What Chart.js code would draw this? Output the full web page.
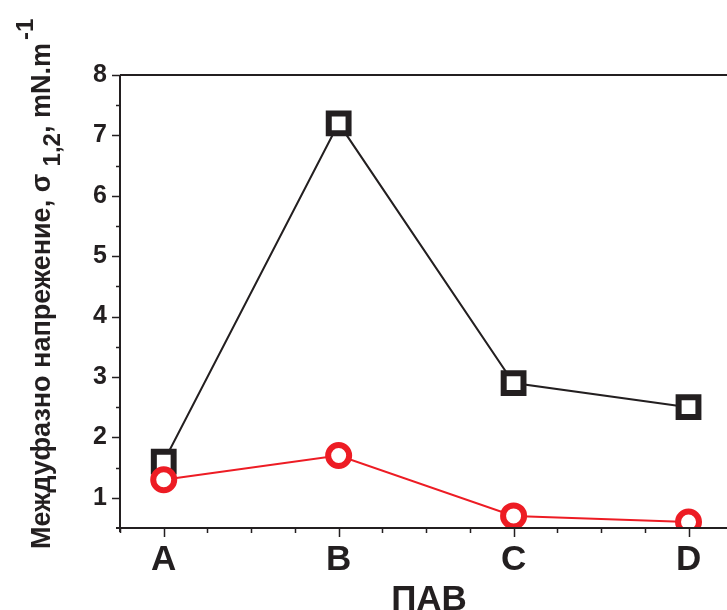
<!DOCTYPE html>
<html>
<head>
<meta charset="utf-8">
<script src="https://cdn.jsdelivr.net/npm/chart.js@4"></script>
<style>
  html, body { margin: 0; padding: 0; background: #fff; }
  #wrap { width: 727px; height: 610px; position: relative; }
</style>
</head>
<body>
<div id="wrap"><canvas id="c" width="727" height="610"></canvas></div>
<script>
// Surfactant categories on the x axis
const categories = ['A', 'B', 'C', 'D'];
// Interfacial tension, mN/m
const seriesSquares = [1.6, 7.2, 2.9, 2.5];
const seriesCircles = [1.3, 1.7, 0.7, 0.6];
// Labelled y ticks
const yTickValues = [1, 2, 3, 4, 5, 6, 7, 8];

const INK = '#231f20';
const RED = '#ed1c24';
const FONT = '"Liberation Sans", Arial, sans-serif';

const toPoints = arr => arr.map((v, i) => ({ x: i + 1, y: v }));

// Axis frame, tick marks and axis titles
const framePlugin = {
  id: 'frame',
  afterDraw(chart) {
    const { ctx, chartArea: a, scales: { x, y } } = chart;
    ctx.save();
    ctx.strokeStyle = INK;
    ctx.lineWidth = 2;
    ctx.lineCap = 'butt';
    ctx.beginPath();
    // left axis
    ctx.moveTo(a.left, a.top);
    ctx.lineTo(a.left, a.bottom + 4);
    // bottom axis
    ctx.moveTo(a.left - 4, a.bottom);
    ctx.lineTo(a.right, a.bottom);
    // top border
    ctx.moveTo(a.left, a.top);
    ctx.lineTo(a.right, a.top);
    ctx.stroke();

    // y tick marks: majors at integers, minors at halves
    ctx.lineWidth = 1.5;
    ctx.beginPath();
    for (let v = 1; v <= 8; v += 0.5) {
      const py = Math.round(y.getPixelForValue(v)) + 0.5;
      const len = Number.isInteger(v) ? 8 : 4;
      ctx.moveTo(a.left, py);
      ctx.lineTo(a.left - len, py);
    }
    // x tick marks: majors at categories, minors at quarters
    for (let v = 0.75; v <= x.max + 1e-9; v += 0.25) {
      const px = Math.round(x.getPixelForValue(v)) + 0.5;
      const len = Number.isInteger(v) ? 9 : 5;
      ctx.moveTo(px, a.bottom);
      ctx.lineTo(px, a.bottom + len);
    }
    ctx.stroke();

    // x axis title
    ctx.fillStyle = INK;
    ctx.font = 'bold 35px ' + FONT;
    ctx.textAlign = 'center';
    ctx.textBaseline = 'alphabetic';
    ctx.fillText('ПАВ', 429, 610);

    // y axis title with subscript and superscript, rotated
    ctx.translate(50, 549);
    ctx.rotate(-Math.PI / 2);
    ctx.textAlign = 'left';
    let cx = 0;
    const main = 'bold 27px ' + FONT;
    const small = 'bold 24px ' + FONT;
    ctx.font = main;
    const t1 = 'Междуфазно напрежение, σ ';
    ctx.fillText(t1, cx, 0);
    cx += ctx.measureText(t1).width;
    ctx.font = small;
    const t2 = '1,2';
    ctx.fillText(t2, cx, 10);
    cx += ctx.measureText(t2).width;
    ctx.font = main;
    const t3 = ', mN.m';
    ctx.fillText(t3, cx, 0);
    cx += ctx.measureText(t3).width;
    ctx.font = small;
    ctx.fillText('-1', cx + 3, -17);
    ctx.restore();
  }
};

new Chart(document.getElementById('c'), {
  type: 'line',
  data: {
    datasets: [
      {
        data: toPoints(seriesSquares),
        borderColor: INK,
        borderWidth: 2,
        pointStyle: 'rect',
        pointRadius: 14,
        pointBorderWidth: 6,
        pointBorderColor: INK,
        pointBackgroundColor: '#fff',
        clip: 0,
        order: 2
      },
      {
        data: toPoints(seriesCircles),
        borderColor: RED,
        borderWidth: 2,
        pointStyle: 'circle',
        pointRadius: 10.5,
        pointBorderWidth: 6,
        pointBorderColor: RED,
        pointBackgroundColor: '#fff',
        clip: 0,
        order: 1
      }
    ]
  },
  options: {
    responsive: false,
    animation: false,
    devicePixelRatio: 1,
    layout: { autoPadding: false, padding: { top: 75, right: 0, left: 0, bottom: 0 } },
    plugins: { legend: { display: false }, tooltip: { enabled: false } },
    elements: { line: { tension: 0 } },
    scales: {
      x: {
        type: 'linear',
        min: 0.75,
        max: 4.22,
        afterBuildTicks: s => { s.ticks = categories.map((_, i) => ({ value: i + 1 })); },
        afterFit: s => { s.height = 82; s.paddingLeft = 0; s.paddingRight = 0; },
        grid: { display: false, drawTicks: false },
        border: { display: false },
        ticks: {
          padding: 11,
          color: INK,
          font: { family: FONT, size: 35, weight: 'bold' },
          maxRotation: 0,
          autoSkip: false,
          callback: v => categories[Math.round(v) - 1] ?? ''
        }
      },
      y: {
        type: 'linear',
        min: 0.5,
        max: 8,
        afterBuildTicks: s => { s.ticks = yTickValues.map(v => ({ value: v })); },
        afterFit: s => { s.width = 120; s.paddingTop = 0; s.paddingBottom = 0; },
        grid: { display: false, drawTicks: false },
        border: { display: false },
        ticks: {
          padding: 13,
          color: INK,
          font: { family: FONT, size: 25, weight: 'bold' },
          autoSkip: false
        }
      }
    }
  },
  plugins: [framePlugin]
});
</script>
</body>
</html>
